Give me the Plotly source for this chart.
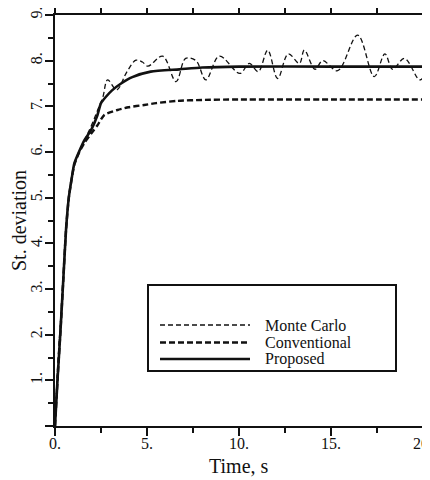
import plotly.graph_objects as go

# ---- data ----
mc_t = [0, 0.1, 0.3, 0.5, 0.75, 1.0, 1.3, 1.6, 2.0, 2.3, 2.6, 2.86, 3.35, 3.9, 4.4, 4.75,
        5.05, 5.85, 6.58, 7.1, 7.66, 8.2, 8.93, 10.05, 10.56, 11.05, 11.56, 12.1, 12.68,
        13.28, 13.55, 14.13, 14.55, 15.36, 16.45, 17.35, 17.93, 18.35, 18.99, 19.8, 20]
mc_v = [0, 1.0, 2.3, 3.6, 5.0, 5.65, 6.0, 6.25, 6.6, 6.9, 7.2, 7.58, 7.36, 7.75, 8.01, 7.97,
        7.88, 8.1, 7.54, 8.05, 8.0, 7.58, 8.10, 7.72, 7.94, 7.76, 8.23, 7.61, 8.15,
        7.94, 8.23, 7.81, 8.0, 7.78, 8.56, 7.65, 8.15, 7.81, 8.05, 7.58, 7.62]

conv_t = [0, 0.15, 0.3, 0.45, 0.6, 0.75, 0.9, 1.05, 1.3, 1.6, 2.0, 2.3, 2.68, 3.4, 4.0,
          4.85, 5.5, 6.67, 8, 10, 15, 20]
conv_v = [0, 1.1, 2.1, 3.2, 4.3, 5.0, 5.4, 5.72, 5.98, 6.2, 6.42, 6.58, 6.81, 6.92, 6.98,
          7.03, 7.07, 7.12, 7.14, 7.15, 7.15, 7.15]

prop_t = [0, 0.15, 0.3, 0.45, 0.6, 0.75, 0.9, 1.05, 1.3, 1.6, 1.96, 2.3, 2.5, 2.77, 3.1,
          3.59, 4.2, 5.2, 6.76, 8, 10, 15, 20]
prop_v = [0, 1.1, 2.1, 3.2, 4.3, 5.0, 5.4, 5.75, 6.0, 6.26, 6.48, 6.8, 7.07, 7.21, 7.35,
          7.5, 7.64, 7.76, 7.81, 7.85, 7.87, 7.87, 7.87]

x_ticks = [0, 5, 10, 15, 20]
x_labels = ["0.", "5.", "10.", "15.", "20."]
y_ticks = [0, 1, 2, 3, 4, 5, 6, 7, 8, 9]
y_labels = ["", "1.", "2.", "3.", "4.", "5.", "6.", "7.", "8.", "9."]
legend_names = ["Monte Carlo", "Conventional", "Proposed"]
x_title = "Time, s"
y_title = "St. deviation"

FONT = "Liberation Serif"
INK = "#111111"

# page body has an 8px margin, so figure is sized/placed to compensate
OFF = 8
PL, PR, PT, PB = 55, 423, 15, 426  # plot area in window pixels
W, H = 430 - OFF, 480 - OFF


def px(xw):
    return (xw - PL) / (PR - PL)


def py(yw):
    return (PB - yw) / (PB - PT)


fig = go.Figure()
fig.add_trace(go.Scatter(x=mc_t, y=mc_v, mode="lines", name=legend_names[0],
                         line=dict(color=INK, width=1.3, dash="5px,3px", shape="spline", smoothing=1.0)))
fig.add_trace(go.Scatter(x=conv_t, y=conv_v, mode="lines", name=legend_names[1],
                         line=dict(color=INK, width=2.4, dash="6px,3px", shape="spline", smoothing=0.6)))
fig.add_trace(go.Scatter(x=prop_t, y=prop_v, mode="lines", name=legend_names[2],
                         line=dict(color=INK, width=2.6, shape="spline", smoothing=0.6)))

# legend box drawn as shapes + annotations
shapes = [dict(type="rect", xref="paper", yref="paper", x0=px(148), x1=px(396), y0=py(371), y1=py(285),
               line=dict(color=INK, width=2), fillcolor="white")]
sample_y = [py(325), py(342.5), py(359)]
styles = [dict(color=INK, width=1.3, dash="5px,3px"),
          dict(color=INK, width=2.4, dash="6px,3px"),
          dict(color=INK, width=2.4)]
annotations = []
for name, yy, st in zip(legend_names, sample_y, styles):
    shapes.append(dict(type="line", xref="paper", yref="paper", x0=px(160), x1=px(250),
                       y0=yy, y1=yy, line=st))
    annotations.append(dict(xref="paper", yref="paper", x=px(263), y=yy,
                            xanchor="left", yanchor="middle", text=name, showarrow=False,
                            font=dict(family=FONT, size=16, color=INK)))
# x-axis title
annotations.append(dict(xref="paper", yref="paper", x=px(239), y=py(466),
                        xanchor="center", yanchor="middle", text=x_title, showarrow=False,
                        font=dict(family=FONT, size=20, color=INK)))

fig.update_layout(
    width=W, height=H,
    margin=dict(l=PL - OFF, r=W - (PR - OFF), t=PT - OFF, b=H - (PB - OFF)),
    paper_bgcolor="white", plot_bgcolor="white",
    showlegend=False,
    font=dict(family=FONT, size=15, color=INK),
    shapes=shapes, annotations=annotations,
)
fig.update_xaxes(
    range=[0, 20], tickmode="array", tickvals=x_ticks, ticktext=x_labels,
    automargin=False, ticklabeloverflow="allow",
    showgrid=False, zeroline=False, showline=True, linewidth=2, linecolor=INK,
    mirror="ticks", ticks="outside", ticklen=8, tickwidth=1.5, tickcolor=INK,
    minor=dict(tickmode="array", tickvals=[2.5, 7.5, 12.5, 17.5], ticks="outside",
               ticklen=5, tickwidth=1.5, tickcolor=INK),
    tickfont=dict(family=FONT, size=16, color=INK), ticklabelstandoff=-6,
)
fig.update_yaxes(
    range=[0, 9], tickmode="array", tickvals=y_ticks, ticktext=y_labels, tickangle=-90,
    automargin=False, ticklabeloverflow="allow",
    showgrid=False, zeroline=False, showline=True, linewidth=2, linecolor=INK,
    mirror="ticks", ticks="outside", ticklen=8, tickwidth=1.5, tickcolor=INK,
    minor=dict(tickmode="array", tickvals=[0.5 + i for i in range(9)], ticks="outside",
               ticklen=5, tickwidth=1.5, tickcolor=INK),
    tickfont=dict(family=FONT, size=16, color=INK), ticklabelstandoff=-3,
    title=dict(text=y_title, font=dict(family=FONT, size=20, color=INK)),
)

fig.write_html("out.html")
